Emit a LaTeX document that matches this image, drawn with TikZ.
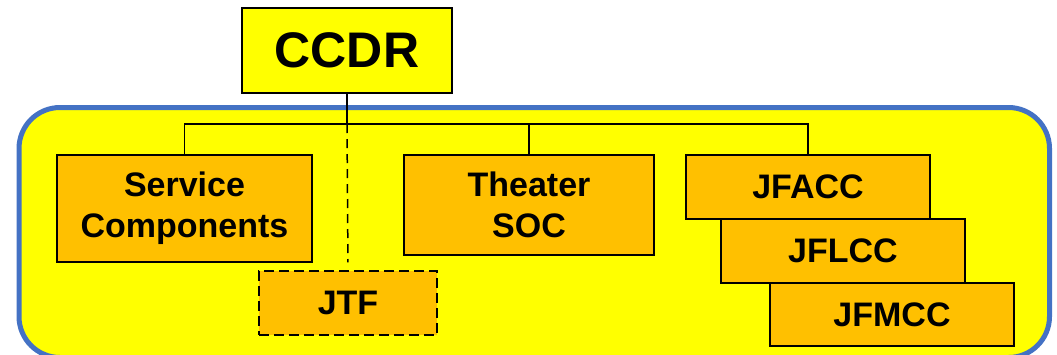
\documentclass[tikz,border=0pt]{standalone}
\usepackage{fontspec}
\setmainfont{Liberation Sans}
\usepackage{tikz}
\usetikzlibrary{calc}
\definecolor{boxyellow}{HTML}{FFFF00}
\definecolor{boxorange}{HTML}{FFC000}
\definecolor{frameblue}{HTML}{4472C4}

\begin{document}
\begin{tikzpicture}[x=1pt,y=-1pt,
  every node/.style={rectangle,draw=black,line width=1.5pt,fill=boxorange,align=center,
    font=\bfseries\fontsize{34}{41}\selectfont,inner sep=0pt},
  jtfbox/.style={dash pattern=on 10pt off 5pt}]
  \useasboundingbox (0,0) rectangle (1057,354);
  \clip (0,0) rectangle (1057,354);
  \draw[frameblue,line width=5pt,fill=boxyellow,rounded corners=41pt] (19,107.5) rectangle (1049.5,357.5);

  \node[fill=boxyellow,minimum width=210pt,minimum height=85pt,font=\bfseries\fontsize{50}{60}\selectfont] (ccdr) at (347,50.5) {CCDR};
  \node[minimum width=255pt,minimum height=107pt] (svc) at (184.5,208.5) {Service\\Components};
  \node[minimum width=250pt,minimum height=100pt] (soc) at (529,205) {Theater\\SOC};
  \node[jtfbox,minimum width=178pt,minimum height=64pt] (jtf) at (348,303) {JTF};
  \node[minimum width=244pt,minimum height=64pt] (jfacc) at (808,187) {JFACC};
  \node[minimum width=244pt,minimum height=64pt] (jflcc) at (843,251) {JFLCC};
  \node[minimum width=244pt,minimum height=63pt] (jfmcc) at (892,314.5) {JFMCC};
  \coordinate (bus) at (347,124);

  \draw[line width=1.5pt] (ccdr) -- (bus);
  \draw[line width=1.5pt] (svc.north) |- (bus) -| (jfacc.north);
  \draw[line width=1.5pt] (bus) -| (soc.north);
  \draw[line width=1.5pt,dash pattern=on 9pt off 6pt,shorten >=8pt] (bus) -- (jtf.north);
\end{tikzpicture}
\end{document}
